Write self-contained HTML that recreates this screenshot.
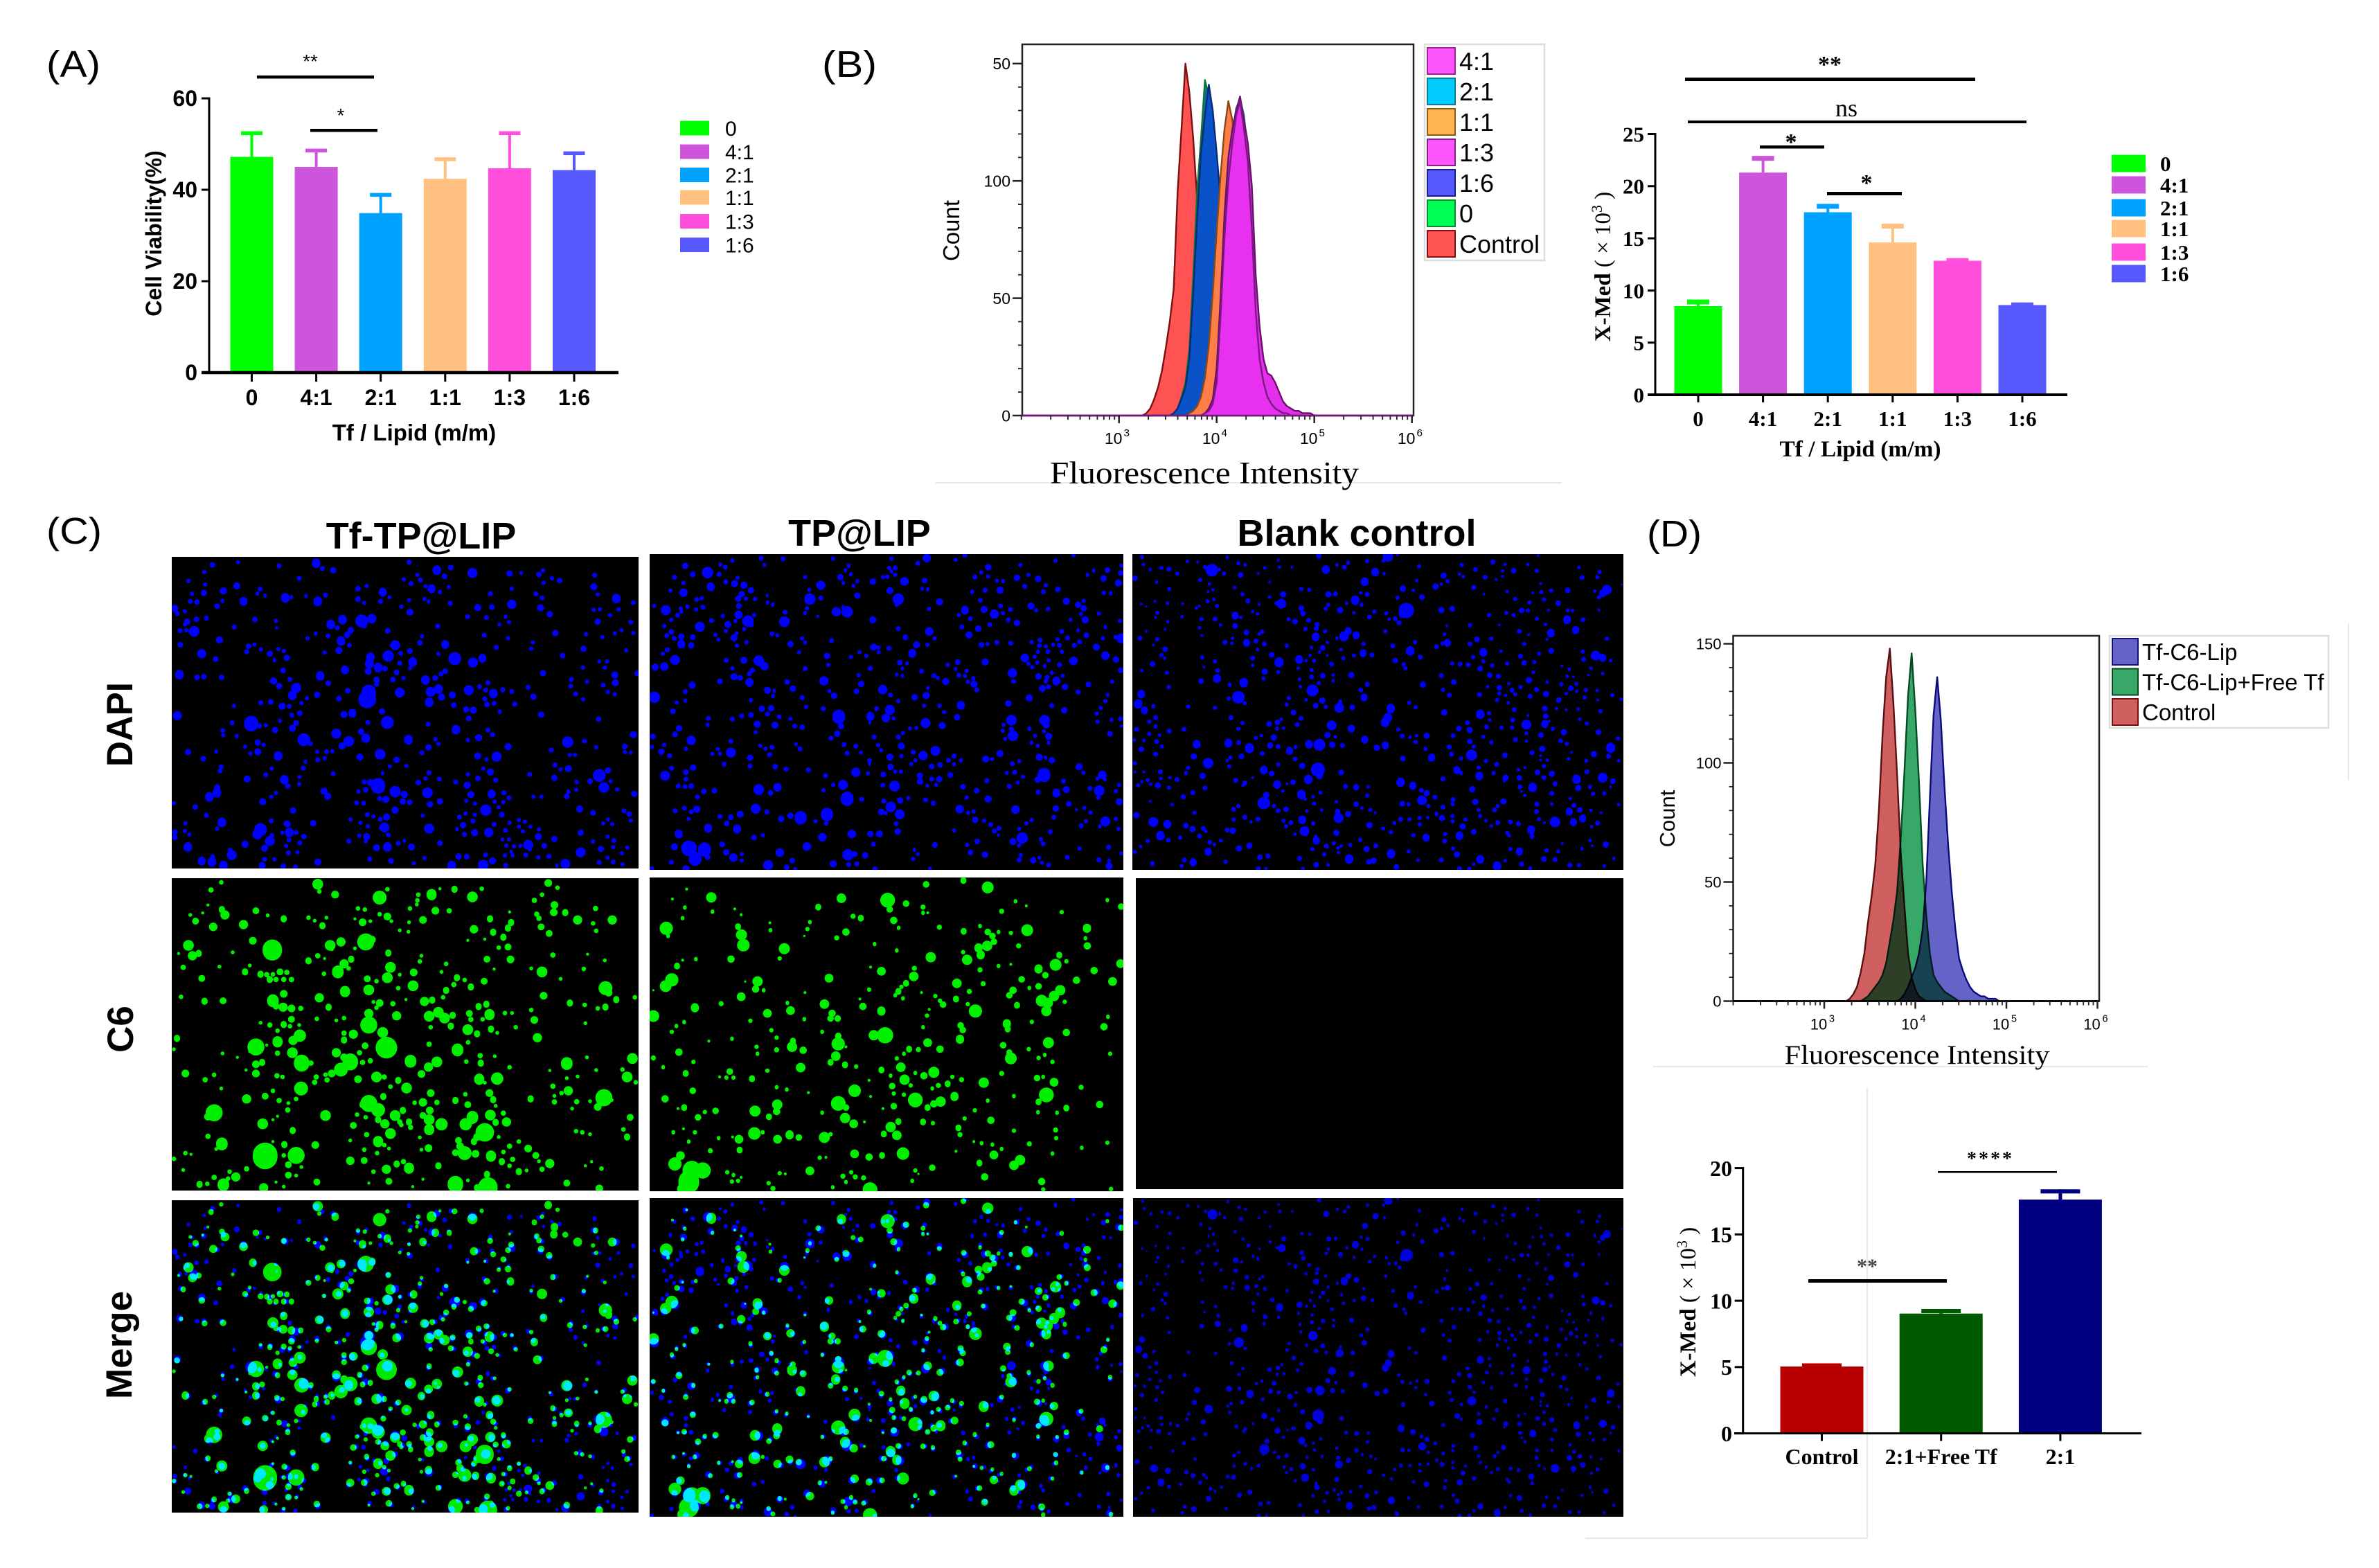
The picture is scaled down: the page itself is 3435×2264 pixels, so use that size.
<!DOCTYPE html>
<html lang="en">
<head>
<meta charset="utf-8">
<title>Tf liposome figure</title>
<style>
html,body{margin:0;padding:0;background:#fff;width:3435px;height:2264px;overflow:hidden}
svg{display:block}
text{font-family:"Liberation Sans",sans-serif;fill:#000}
.serif,.serif text{font-family:"Liberation Serif",serif}
.letter{font-size:54px}
.coltitle{font-size:54px;font-weight:bold;text-anchor:middle}
.rowlabel{font-size:53px;font-weight:bold;text-anchor:middle}
.rule{fill:#e8e8e8}
</style>
</head>
<body>
<svg xmlns="http://www.w3.org/2000/svg" width="3435" height="2264" viewBox="0 0 3435 2264">
<rect width="3435" height="2264" fill="#fff"/>
<rect class="rule" x="1351" y="696" width="904" height="2"/>
<rect class="rule" x="2387" y="1539" width="714" height="2"/>
<rect class="rule" x="3390" y="900" width="2" height="227"/>
<rect class="rule" x="2695" y="1571" width="2" height="651"/>
<rect class="rule" x="2289" y="2220" width="407" height="2"/>

<text class="letter" x="67" y="111" textLength="78" lengthAdjust="spacingAndGlyphs">(A)</text>
<text class="letter" x="1187" y="111" textLength="79" lengthAdjust="spacingAndGlyphs">(B)</text>
<text class="letter" x="67" y="785" textLength="80" lengthAdjust="spacingAndGlyphs">(C)</text>
<text class="letter" x="2378" y="789" textLength="79" lengthAdjust="spacingAndGlyphs">(D)</text>

<g id="panel-a">
<text font-size="32" font-weight="bold" text-anchor="middle" transform="translate(233,337) rotate(-90)">Cell Viability(%)</text>
<text x="598" y="636" font-size="33" font-weight="bold" text-anchor="middle">Tf / Lipid (m/m)</text>
<rect x="371" y="109" width="169" height="4.5" fill="#000"/>
<text x="448" y="98" font-size="28" text-anchor="middle">**</text>
<rect x="448" y="186" width="97" height="4.5" fill="#000"/>
<text x="492" y="176" font-size="28" text-anchor="middle">*</text>
</g>

<g id="panel-b-bars" class="serif">
<text font-size="33" text-anchor="middle" transform="translate(2325,385) rotate(-90)"><tspan font-weight="bold">X-Med</tspan> ( × 10<tspan dy="-12" font-size="22">3</tspan><tspan dy="12"> )</tspan></text>
<text x="2686" y="659" font-size="33" font-weight="bold" text-anchor="middle" textLength="233" lengthAdjust="spacingAndGlyphs">Tf / Lipid (m/m)</text>
<rect x="2433" y="112" width="419" height="5" fill="#000"/>
<text x="2642" y="104" font-size="34" font-weight="bold" text-anchor="middle">**</text>
<rect x="2437" y="174" width="489" height="4" fill="#000"/>
<text x="2666" y="168" font-size="36" text-anchor="middle">ns</text>
<rect x="2541" y="210" width="93" height="4.5" fill="#000"/>
<text x="2586" y="216" font-size="34" font-weight="bold" text-anchor="middle">*</text>
<rect x="2638" y="277" width="108" height="5" fill="#000"/>
<text x="2695" y="275" font-size="34" font-weight="bold" text-anchor="middle">*</text>
</g>

<g id="panel-b-hist">
<text font-size="33" text-anchor="middle" transform="translate(1385,333) rotate(-90)">Count</text>
<text class="serif" x="1739" y="698" font-size="45" text-anchor="middle" textLength="446" lengthAdjust="spacingAndGlyphs" style="font-family:'Liberation Serif',serif">Fluorescence Intensity</text>
</g>

<g id="panel-d-hist">
<text font-size="31" text-anchor="middle" transform="translate(2418,1182) rotate(-90)">Count</text>
<text x="2768" y="1536" font-size="39" text-anchor="middle" textLength="383" lengthAdjust="spacingAndGlyphs" style="font-family:'Liberation Serif',serif">Fluorescence Intensity</text>
</g>

<g id="panel-d-bars" class="serif">
<text font-size="33" text-anchor="middle" transform="translate(2448,1880) rotate(-90)"><tspan font-weight="bold">X-Med</tspan> ( × 10<tspan dy="-12" font-size="22">3</tspan><tspan dy="12"> )</tspan></text>
<rect x="2611" y="1847" width="200" height="5" fill="#000"/>
<text x="2696" y="1838" font-size="30" font-weight="bold" text-anchor="middle" fill="#444" style="fill:#444">**</text>
<rect x="2798" y="1691" width="172" height="2.5" fill="#000"/>
<text x="2874" y="1682" font-size="28" font-weight="bold" text-anchor="middle" letter-spacing="3">****</text>
</g>

<g id="panel-c">
<text class="coltitle" x="608" y="792">Tf-TP@LIP</text>
<text class="coltitle" x="1241" y="788">TP@LIP</text>
<text class="coltitle" x="1959" y="788">Blank control</text>
<text class="rowlabel" textLength="122" lengthAdjust="spacingAndGlyphs" transform="translate(191,1107) rotate(-90)" style="text-anchor:start">DAPI</text>
<text class="rowlabel" transform="translate(192,1486) rotate(-90)">C6</text>
<text class="rowlabel" transform="translate(190,1942) rotate(-90)">Merge</text>
</g>
</svg>

<script>
// ---------- Bar chart data ----------
const ratioGroups = ['0','4:1','2:1','1:1','1:3','1:6'];
const viabilityMeans = [47.2,45,34.9,42.4,44.7,44.3];
const viabilityTops = [52.8,49,39.3,47.1,52.8,48.4];
const viabilityTicks = [0,20,40,60];
const xMedMeans = [8.5,21.3,17.5,14.6,12.85,8.6];
const xMedTops = [9.13,22.9,18.3,16.4,13.1,8.85];
const xMedTicks = [0,5,10,15,20,25];
const competitionGroups = ['Control','2:1+Free Tf','2:1'];
const competitionMeans = [5.04,9.03,17.63];
const competitionTops = [5.28,9.38,18.4];
const competitionTicks = [0,5,10,15,20];

// ---------- Histogram data (log10 intensity bins and counts) ----------
const histBins = [3.24,3.28,3.32,3.36,3.40,3.44,3.48,3.52,3.56,3.60,3.64,3.68,3.72,3.76,3.80,3.84,3.88,3.92,3.96,4.00,4.04,4.08,4.12,4.16,4.20,4.24,4.28,4.32,4.36,4.40,4.44,4.48,4.52,4.56,4.60,4.64,4.68,4.72,4.76,4.80,4.84,4.88,4.92,4.96,5.00];
const countsBControl = [0,1,3,7,12,19,29,40,54,95,122,150,138,118,92,58,36,22,12,6,3,1,0,0,0,0,0,0,0,0,0,0,0,0,0,0,0,0,0,0,0,0,0,0,0];
const countsBZero = [0,0,0,0,0,0,0,0,1,3,8,14,28,60,96,118,143,136,122,104,80,50,30,16,8,4,2,1,0,0,0,0,0,0,0,0,0,0,0,0,0,0,0,0,0];
const countsB16 = [0,0,0,0,0,0,0,0,1,3,7,12,24,52,84,112,128,141,130,112,92,60,38,22,12,7,4,2,1,0,0,0,0,0,0,0,0,0,0,0,0,0,0,0,0];
const countsB11 = [0,0,0,0,0,0,0,0,0,0,0,0,1,2,4,8,16,30,52,78,102,122,134,126,110,88,60,38,22,14,8,5,3,2,1,0,0,0,0,0,0,0,0,0,0];
const countsB21 = [0,0,0,0,0,0,0,0,0,0,0,0,0,0,0,0,1,2,5,16,46,82,106,120,131,135,128,112,92,58,34,22,14,9,6,4,3,2,1,1,0,0,0,0,0];
const countsB41 = [0,0,0,0,0,0,0,0,0,0,0,0,0,0,0,0,1,3,7,20,50,86,110,122,130,136,126,116,98,60,38,24,18,17,14,10,6,4,3,2,2,1,1,1,0];
const countsB13 = [0,0,0,0,0,0,0,0,0,0,0,0,0,0,0,0,1,2,5,14,42,76,100,116,128,134,122,108,80,44,24,14,8,5,3,2,1,1,0,0,0,0,0,0,0];
const countsDControl = [0,1,3,6,12,20,33,44,57,80,112,136,148,125,95,62,40,20,10,5,2,1,0,0,0,0,0,0,0,0,0,0,0,0,0,0,0,0,0,0,0,0,0,0,0];
const countsDBlocked = [0,0,0,0,0,1,2,4,6,8,11,16,25,34,46,68,96,128,146,122,92,58,36,20,11,8,6,4,3,2,1,0,0,0,0,0,0,0,0,0,0,0,0,0,0];
const countsDTarget = [0,0,0,0,0,0,0,0,0,0,0,0,0,0,0,1,3,6,10,14,20,30,50,85,120,136,118,90,66,46,30,18,13,9,6,4,3,2,2,1,1,1,0,0,0];
const histYTicksB = [0,50,100,150];
const histYLabelsB = ['0','50','100','50'];
const histYTicksD = [0,50,100,150];
const histYLabelsD = ['0','50','100','150'];
const histDecades = [3,4,5,6];

// ---------- Legend text ----------
const histLegendB = ['4:1','2:1','1:1','1:3','1:6','0','Control'];
const histLegendD = ['Tf-C6-Lip','Tf-C6-Lip+Free Tf','Control'];

// ---------- Micrograph nuclei/cell blobs: x, y, radius triples ----------
const col1Dapi = [485,40,12,505,62,7,540,70,9,150,47,8,232,35,6,123,78,6,365,52,7,785,35,7,875,70,12,900,97,8,920,58,8,990,82,14,1110,85,9,1148,82,5,1218,70,6,1205,88,8,1247,105,6,1272,115,8,1220,125,6,1385,92,7,1382,142,10,1395,175,6,72,117,6,126,132,6,122,168,9,185,160,10,228,138,10,304,152,7,295,172,5,320,180,5,385,190,12,405,187,5,452,182,5,490,205,12,515,178,7,430,105,7,83,172,6,78,205,7,100,208,8,165,226,8,182,203,6,250,205,11,620,150,8,648,138,6,700,165,11,722,187,6,693,205,7,620,195,8,640,212,6,768,110,6,792,128,7,812,90,6,822,112,7,838,140,6,858,150,11,885,165,6,913,142,5,835,195,6,848,205,5,785,200,6,760,228,6,788,252,10,918,213,7,1048,172,7,1117,150,6,1117,218,13,1007,232,10,1053,230,8,1210,233,10,1195,172,7,1215,190,7,1240,260,9,1455,193,12,1510,210,7,1382,242,6,1402,240,6,1462,240,6,1435,265,6,1395,293,9,1502,295,7,974,272,7,1035,275,7,1097,272,5,1108,295,6,1077,305,5,28,235,10,36,258,7,60,248,6,130,278,7,98,283,8,68,293,9,60,305,5,45,332,7,65,330,6,90,335,15,287,283,8,355,290,6,357,320,4,220,316,7,532,305,12,570,285,12,553,320,7,632,290,18,665,280,12,640,310,8,716,333,8,878,313,7,597,330,9,585,350,9,565,377,12,523,355,7,483,345,6,457,365,6,172,372,10,1028,352,7,1105,365,6,1258,343,9,1357,347,6,1410,360,6,1450,343,6,1472,330,6,1510,342,6,46,393,8,266,400,8,285,392,6,306,413,6,260,424,7,335,432,9,362,412,6,380,420,6,350,460,5,390,450,9,115,432,13,160,455,8,740,395,14,820,385,8,827,357,6,902,392,11,592,395,7,558,418,10,512,427,6,788,420,8,758,430,7,718,442,16,660,448,12,657,475,13,1067,405,7,1185,383,6,1180,410,6,1349,411,9,1487,418,6,880,433,6,933,453,18,992,470,14,1022,452,11,1282,440,8,797,468,12,755,473,7,578,502,11,685,492,12,707,497,8,653,508,10,745,513,8,788,495,6,1425,465,6,1400,465,5,1418,492,6,1347,492,6,378,505,8,498,528,12,43,523,12,100,535,8,122,532,8,179,535,8,1218,517,9,1450,524,10,1522,518,8,902,508,8,888,520,7,870,537,8,838,546,12,767,538,6,733,544,8,680,545,9,680,565,7,347,550,10,365,572,9,400,543,7,420,580,14,524,560,8,587,593,8,1310,543,7,1360,554,6,1452,558,10,1413,568,7,1308,572,7,1170,578,7,1040,558,7,1013,575,7,978,590,14,1033,590,7,1088,588,7,1117,596,7,755,600,14,655,600,20,855,597,14,880,585,12,890,620,10,925,611,10,1058,605,12,1187,618,9,1428,598,6,1450,608,6,1323,606,7,1348,630,6,408,612,12,455,625,6,488,610,9,558,627,8,650,630,25,437,645,6,1030,628,7,1037,652,8,1060,647,7,1127,650,7,850,643,12,930,655,8,338,641,8,306,645,7,219,658,6,375,660,10,398,660,7,970,673,9,993,677,10,1078,683,6,698,682,9,36,700,13,575,695,10,602,690,11,432,690,8,406,698,7,1212,696,9,978,713,8,1398,715,8,715,730,18,652,730,7,847,737,7,368,723,6,213,732,7,275,735,20,302,745,7,322,742,6,420,732,8,408,755,10,352,763,9,937,761,12,550,778,14,630,770,9,1040,763,7,1055,783,7,183,765,7,184,786,6,228,789,6,1510,783,10,445,805,18,466,822,7,590,812,15,645,798,12,783,805,12,1010,796,10,870,803,6,880,823,6,975,806,6,1298,815,16,1352,811,7,296,817,9,255,835,6,315,827,6,568,832,10,848,838,9,827,861,7,1105,835,10,1390,838,6,1482,834,8,71,858,9,162,856,6,296,857,10,272,864,6,1245,850,7,1483,858,6,1502,860,5,362,875,12,120,887,8,488,857,6,518,857,7,537,855,6,512,885,6,490,892,7,626,880,10,692,868,15,1007,875,10,1035,890,6,1068,878,14,1305,871,6,1322,871,6,745,892,9,450,900,5,777,918,6,723,920,6,443,928,7,178,922,7,174,940,7,1257,915,7,1275,933,6,1300,930,10,341,930,6,322,957,7,1025,930,6,1048,945,10,1175,955,7,540,952,7,700,950,5,850,948,7,1400,960,18,1428,938,9,1255,970,9,262,975,10,382,978,12,431,966,6,430,997,6,393,1005,8,815,990,8,838,973,6,883,975,7,975,955,6,1008,972,8,1065,980,7,936,988,7,640,987,7,660,990,10,685,1005,20,973,1002,10,1327,988,6,1370,985,8,1415,1012,15,1437,985,6,165,1012,9,164,1035,12,140,1053,12,510,1028,10,522,1050,10,355,1035,6,340,1052,6,312,1074,10,645,1022,8,622,1030,6,740,1030,16,710,1063,10,690,1060,7,770,1042,10,845,1035,15,985,1043,10,1052,1040,11,1092,1035,7,1108,1057,7,1300,1030,6,1325,1022,6,1295,1050,8,1187,1052,6,1213,1052,6,1458,1020,6,1513,1040,9,765,1072,9,787,1076,8,853,1085,9,885,1072,9,615,1078,7,638,1080,7,970,1070,6,998,1082,6,1062,1073,6,1090,1075,6,25,1080,6,94,1097,8,410,1112,9,740,1110,10,1033,1110,16,1075,1097,6,1337,1105,10,1380,1122,8,1480,1113,7,1497,1127,8,130,1133,7,650,1130,7,670,1137,6,712,1140,10,692,1150,7,829,1134,6,968,1125,6,948,1140,7,998,1130,6,1085,1130,8,596,1150,6,1502,1155,6,1140,1153,6,1160,1160,6,62,1167,6,180,1163,12,340,1157,7,391,1170,10,475,1167,9,628,1165,6,705,1185,14,960,1175,9,992,1157,7,1060,1172,7,1110,1165,6,1178,1182,6,1428,1150,6,1413,1168,5,1442,1170,6,850,1190,14,652,1180,6,165,1190,6,940,1192,5,1097,1198,7,1140,1182,6,1205,1193,6,28,1205,8,60,1200,6,75,1215,6,28,1228,8,305,1195,18,295,1215,14,375,1208,6,398,1207,12,420,1207,7,1043,1207,13,997,1208,10,964,1215,7,1153,1202,6,1340,1208,9,445,1225,8,342,1218,6,624,1221,6,648,1225,10,718,1217,7,1203,1225,10,1108,1237,6,1087,1237,5,1427,1225,6,397,1240,7,335,1244,14,432,1252,7,590,1244,7,645,1245,6,770,1243,5,750,1254,7,885,1253,8,1255,1235,9,1380,1246,6,1447,1242,7,255,1258,10,388,1265,6,1222,1265,8,1170,1260,14,1125,1266,6,1145,1265,6,1100,1264,6,70,1270,12,680,1273,10,715,1270,12,793,1270,10,318,1275,10,1405,1278,9,1445,1270,6,1490,1272,6,1175,1280,6,207,1282,6,1340,1293,14,1473,1297,6,1115,1290,5,395,1295,7,424,1292,6,212,1305,14,1095,1307,6,1120,1307,6,1163,1305,7,1033,1304,7,945,1311,9,972,1312,8,1203,1315,6,1237,1310,7,150,1312,7,1427,1316,6,115,1331,11,148,1335,12,318,1323,7,350,1323,6,490,1335,10,658,1322,7,727,1330,8,800,1340,6,835,1318,6,1055,1330,10,1445,1335,7,1400,1337,7,1290,1343,14,1025,1348,15,923,1350,12,310,1350,10,185,1350,12,378,1353,8,418,1356,7,1098,1350,7,1263,1350,5,1475,1345,6];
const col1Green = [490,20,14,145,45,7,178,12,6,495,52,6,546,65,10,715,42,6,690,78,18,815,65,6,858,65,13,885,40,4,932,42,8,990,75,14,1020,40,6,1190,90,7,1215,65,6,1255,110,10,1235,15,10,1265,35,6,1290,143,8,1253,142,10,135,110,4,78,153,5,118,145,4,180,130,8,190,153,12,290,135,9,95,180,9,152,205,11,250,195,12,328,155,5,380,170,8,460,165,6,480,178,5,505,200,8,518,165,5,620,125,6,642,130,6,635,185,10,610,170,4,660,180,5,690,150,6,715,160,10,728,180,5,788,125,6,812,90,6,830,175,10,870,135,10,915,135,7,785,185,5,755,220,5,783,226,5,810,108,5,1047,170,8,1115,186,8,1110,140,4,1105,210,8,1198,150,7,1205,168,7,1212,205,9,1238,233,9,1330,175,12,1388,125,7,1380,190,6,1390,222,6,1442,175,12,995,215,11,1057,228,8,1090,250,8,1105,292,9,1075,295,6,1030,258,4,975,263,4,72,285,14,85,330,12,105,320,8,40,320,4,55,380,7,280,265,10,343,305,25,215,315,5,530,285,14,565,270,12,535,300,6,645,270,22,665,260,10,610,298,5,718,318,8,490,330,7,460,352,8,512,342,4,598,345,8,575,365,12,555,400,15,590,385,6,510,408,6,1037,345,9,1113,346,10,1250,327,7,1362,323,4,1418,350,5,825,330,5,820,355,6,905,365,6,890,400,5,172,377,5,255,400,8,305,410,8,325,412,7,345,410,6,368,400,9,390,402,7,270,372,5,1060,388,4,1180,385,5,1215,400,14,1350,387,6,335,433,8,355,433,7,380,433,7,405,433,7,115,428,9,800,402,10,725,380,14,715,425,14,755,412,5,650,430,9,680,440,6,655,478,14,1275,430,5,1028,440,9,985,465,8,930,455,7,905,480,8,895,510,6,940,425,8,965,435,6,798,460,14,750,470,6,1420,470,18,1430,490,10,1455,520,8,578,485,13,380,495,10,495,512,12,690,535,10,670,530,5,1220,503,10,1305,535,8,1353,543,6,1395,558,6,1420,552,8,1515,510,6,48,508,6,124,527,8,184,525,9,775,520,4,733,538,7,835,528,12,860,522,8,345,525,15,355,548,8,378,553,12,405,558,10,435,558,7,525,553,8,655,580,12,680,555,6,880,575,14,900,600,14,926,588,8,980,580,9,1010,550,8,1035,540,8,1045,585,13,1095,578,6,1118,578,5,1180,565,6,1190,608,10,745,590,12,850,592,14,305,620,5,335,630,7,380,628,8,405,605,9,487,603,6,430,630,5,550,610,5,575,600,6,985,606,7,1023,605,6,655,630,22,400,635,6,1130,640,6,920,635,8,855,640,6,975,650,14,1050,648,8,1005,668,8,1355,622,5,360,655,6,432,676,16,700,662,14,605,670,12,575,665,7,1070,664,5,35,688,8,360,703,13,410,697,12,575,695,8,976,705,6,1200,685,12,712,728,28,643,720,9,850,713,7,290,725,22,270,745,4,325,717,4,942,738,15,25,735,5,408,750,14,360,752,7,550,750,12,625,750,7,182,753,5,1507,775,14,1015,763,7,1062,765,5,230,770,4,575,770,10,595,790,20,438,795,20,468,795,7,790,787,15,635,792,7,660,785,7,875,790,14,970,788,6,1017,795,8,290,800,10,310,792,8,1295,797,15,1360,770,5,848,812,12,825,842,10,1110,813,6,565,823,18,535,840,10,62,840,10,258,825,4,290,840,10,1240,827,4,1390,825,5,1475,823,6,1490,855,14,358,850,7,376,855,6,155,846,6,515,845,6,485,855,7,520,868,7,126,867,7,1012,865,13,1070,862,16,680,855,14,705,855,7,620,865,10,480,878,7,1295,860,5,1330,853,5,1518,878,6,750,870,8,1030,880,5,436,905,18,178,905,5,1250,895,7,777,903,14,725,897,6,1300,915,12,1278,925,6,345,915,6,702,940,8,1045,925,10,855,925,10,260,950,12,320,938,9,420,950,6,1178,950,8,1255,937,5,1415,945,22,1395,985,10,365,957,7,395,968,5,830,965,11,803,967,6,875,965,7,935,957,8,967,930,6,975,975,9,1057,953,8,1255,963,7,1327,962,7,1370,960,5,1440,955,5,655,970,22,635,975,8,685,998,18,1065,980,5,155,1010,22,135,1027,10,393,998,7,852,1000,10,1312,992,5,515,1022,14,617,1018,6,740,1022,14,765,1000,8,830,1022,9,850,1040,14,645,1030,6,685,1040,8,1048,1020,14,990,1030,15,1090,1012,7,1500,1030,9,1100,1050,12,1065,1052,8,360,1025,4,345,1040,4,312,1058,14,605,1065,9,707,1058,12,755,1050,7,785,1050,8,890,1060,16,968,1060,16,850,1083,13,790,1073,7,760,1063,6,1030,1095,24,1005,1115,10,725,1100,14,990,1050,6,1325,1090,6,1345,1095,6,1370,1103,5,1478,1082,6,409,1087,8,135,1112,7,648,1105,7,820,1117,5,1075,1115,5,1490,1115,8,945,1130,9,995,1135,8,595,1130,5,685,1135,13,705,1150,6,180,1145,15,345,1135,4,382,1148,8,482,1150,10,950,1155,10,1110,1155,7,1140,1135,6,1170,1165,10,1090,1180,6,848,1163,10,825,1170,5,640,1170,6,720,1165,5,162,1167,5,62,1185,6,80,1190,4,965,1185,18,935,1183,9,1000,1188,10,1050,1198,13,1120,1212,7,1085,1222,8,1195,1195,9,682,1185,6,320,1197,32,420,1195,22,380,1195,6,25,1210,6,595,1218,11,640,1217,9,745,1232,8,767,1222,7,395,1235,9,437,1245,5,1240,1230,12,1205,1220,5,880,1240,8,785,1250,13,1110,1240,6,1140,1265,8,1165,1260,5,1215,1255,7,712,1255,12,670,1265,6,260,1253,7,55,1258,5,1355,1240,4,1375,1222,4,1407,1252,6,205,1265,6,225,1288,12,1037,1277,8,395,1280,9,420,1282,5,155,1290,7,200,1295,6,830,1298,4,975,1303,5,720,1307,9,935,1320,20,1050,1308,7,487,1310,9,355,1310,4,108,1320,8,133,1318,6,185,1322,15,1295,1315,9,655,1315,4,1005,1335,8,1040,1335,25,1105,1328,6,797,1330,4,380,1330,5,315,1335,12,1400,1338,10];
const col2Green = [72,242,18,78,275,5,138,72,4,218,108,14,92,115,4,132,152,5,222,170,5,125,198,5,294,158,4,315,183,4,408,218,4,305,235,8,316,270,15,322,315,17,410,250,5,282,375,10,455,330,15,440,372,6,168,375,5,107,405,8,125,380,4,90,465,18,70,492,16,30,510,3,368,472,14,362,505,10,388,510,5,315,538,12,328,472,3,522,520,4,600,458,12,640,112,13,565,150,8,678,190,7,703,198,8,538,215,5,530,245,6,520,275,3,625,283,7,655,258,10,790,120,20,850,135,9,797,160,9,905,150,7,905,175,5,920,175,4,810,208,10,826,240,5,915,52,9,1036,35,8,1115,65,16,958,237,7,748,310,5,930,367,14,820,338,5,1037,255,8,1115,258,9,1130,275,9,1150,258,5,1190,262,6,1243,250,16,1085,327,11,1113,318,14,1135,300,9,1092,357,11,1035,345,6,1048,378,14,1215,318,7,1437,242,11,1438,318,10,1432,285,5,1503,120,5,1548,148,9,1355,172,6,1160,168,7,1205,125,5,1240,145,4,1090,232,5,1347,358,8,1370,385,6,1335,400,16,1280,418,11,1302,445,9,1460,425,10,1403,467,10,1520,472,12,1546,395,12,1225,463,9,1280,493,9,1250,500,5,1197,510,10,1185,532,9,1210,575,8,1350,510,14,1330,535,14,1310,565,14,1290,555,16,1305,600,14,1365,560,6,1090,422,7,1150,405,5,1190,398,4,1100,482,7,1015,480,13,1055,515,7,1012,548,8,945,535,6,960,555,6,970,572,9,1050,570,6,1075,600,18,770,428,12,877,415,7,875,450,13,735,410,4,850,480,8,835,495,6,825,515,8,815,532,5,840,545,5,900,520,4,730,507,6,700,548,4,710,580,10,585,570,13,465,565,5,475,598,12,400,610,12,250,568,7,165,586,11,30,622,16,345,642,6,130,648,5,105,665,5,90,690,6,610,610,10,605,632,9,628,632,9,520,635,5,770,600,11,918,620,6,925,593,4,905,670,5,1027,662,9,1034,682,9,1177,655,11,1180,678,8,1258,647,6,1505,625,5,1492,668,10,1370,693,10,413,683,6,578,690,5,745,705,14,782,705,22,285,720,5,210,730,4,430,715,6,630,708,9,630,742,18,655,755,4,483,730,8,480,755,14,516,770,10,430,768,7,365,755,6,368,785,5,113,778,10,30,803,7,622,795,13,605,822,8,652,833,8,1025,722,11,920,737,12,1312,737,15,860,765,8,890,767,7,960,765,10,843,785,5,820,805,6,1165,748,9,1185,780,8,1190,805,16,1248,765,6,1300,790,5,1280,803,6,1325,820,6,1512,785,6,160,820,6,135,870,8,62,843,5,508,845,13,400,858,6,278,862,9,267,888,6,290,888,6,245,885,4,350,893,8,688,840,6,770,855,8,833,843,13,940,865,15,908,880,10,845,897,14,800,880,5,880,868,5,805,925,9,865,922,6,1000,885,6,1030,897,7,985,915,8,955,922,7,935,935,5,1102,910,14,1160,870,7,1275,890,9,1330,908,12,1295,885,5,1418,930,7,683,945,17,730,900,4,158,945,9,68,980,10,430,930,5,463,940,5,533,953,4,735,970,4,880,985,20,810,957,6,843,962,6,1007,970,11,1305,963,20,1280,993,8,1115,988,5,1200,968,5,630,1000,20,655,1018,9,962,992,14,940,1002,10,920,1018,8,810,1012,9,775,1022,4,1073,1030,6,1278,1038,5,1478,1005,10,1370,1020,8,1340,1040,5,432,1005,14,430,1035,10,405,1058,8,360,1033,15,232,1032,9,197,1037,6,175,1060,9,130,1018,8,110,1022,4,578,1040,5,652,1063,14,680,1088,12,715,1080,4,1125,1073,10,1040,1065,6,905,1080,8,937,1085,6,825,1078,8,800,1102,14,820,1138,13,778,1132,8,1020,1106,8,1025,1135,7,1200,1118,6,1335,1115,7,1337,1150,6,95,1125,5,128,1110,4,165,1125,6,145,1165,5,358,1130,17,385,1125,5,472,1136,11,502,1147,9,433,1155,12,585,1147,15,605,1133,6,308,1155,12,242,1150,5,287,1145,4,1250,1175,7,1070,1165,4,1130,1178,5,1095,1172,5,1420,1192,5,1503,1170,6,215,1205,7,310,1202,8,683,1218,12,730,1232,10,772,1225,8,840,1217,17,1135,1223,12,1160,1197,5,1325,1217,5,1012,1207,4,118,1226,12,100,1262,18,570,1235,6,590,1233,4,1220,1245,14,1200,1268,13,1088,1258,8,935,1278,9,538,1292,12,155,1292,25,190,1290,22,145,1340,28,125,1370,15,270,1298,6,290,1310,5,315,1320,4,305,1335,6,285,1338,6,440,1302,6,458,1305,4,645,1315,7,672,1298,6,685,1318,7,712,1322,7,655,1340,5,880,1290,6,890,1305,3,870,1335,5,1105,1318,10,1290,1338,10,1295,1372,6,404,1345,6,418,1368,7,612,1363,5,733,1373,20,1515,1370,6];
const col2Dapi = [1035,258,11,1015,280,6,1052,295,7,1025,330,7,1048,365,10,1078,338,9,1115,320,7,1097,255,10,1130,275,13,1150,240,7,1157,270,6,1182,255,7,1175,300,7,1203,313,9,1085,215,7,1058,178,6,1100,172,7,1148,172,10,1067,115,7,1088,95,6,1110,72,9,1110,112,6,1138,130,5,1158,132,6,1203,118,9,1240,105,6,1271,122,9,1228,155,7,1296,150,6,1288,178,7,1335,168,8,1214,62,6,1327,44,6,1385,20,6,1248,240,10,1265,258,6,1303,253,6,1362,220,10,1400,235,9,1418,218,6,1418,250,9,1410,275,6,1423,300,10,1376,300,5,1467,272,6,1535,305,6,1482,120,9,1495,85,8,1538,97,8,1450,87,5,1430,105,5,1530,140,10,1483,183,6,1505,185,5,1540,65,5,1088,408,8,1108,405,6,1138,398,7,1183,401,7,1250,397,6,1277,388,7,1333,385,6,1347,350,7,1400,345,5,1366,378,7,1427,367,8,1405,395,7,1388,410,7,1320,407,6,1275,412,7,1296,415,6,1340,410,7,1270,438,6,1303,438,7,1348,438,6,1260,460,6,1228,465,12,1240,490,6,1252,505,6,1268,485,6,1305,475,6,1340,495,7,1292,500,5,1100,482,10,1188,530,13,1192,567,7,1272,545,9,1315,530,6,1300,550,7,1330,565,11,1350,542,6,1296,567,6,1358,590,9,1285,597,10,1305,590,7,1400,613,7,1433,580,8,1510,568,6,1459,418,10,1480,380,6,1488,455,12,1520,375,6,1540,380,14,1488,332,5,1522,472,9,1538,518,8,1385,478,12,133,66,9,98,116,7,157,103,8,127,140,6,85,173,6,127,182,12,205,95,16,215,157,11,242,103,7,262,72,7,246,60,5,285,42,6,263,136,7,292,143,10,302,118,6,322,150,10,345,172,9,315,188,9,304,208,9,328,208,6,358,210,6,378,33,7,388,62,5,448,36,7,397,195,4,398,225,5,415,233,6,170,212,7,186,206,6,190,245,7,168,255,6,140,243,6,118,250,6,120,265,6,108,280,7,88,300,6,70,258,14,33,240,5,306,240,8,305,278,11,254,283,6,218,303,7,335,305,16,355,280,6,295,305,5,270,320,10,345,320,8,65,327,6,180,330,14,264,348,6,323,340,6,298,358,6,290,378,10,230,365,6,240,385,5,330,397,6,300,412,6,88,352,8,73,368,7,97,380,7,120,373,9,120,405,11,157,375,8,152,410,9,75,430,7,60,447,6,413,360,7,430,367,6,520,115,6,570,150,13,533,170,6,535,210,16,570,205,7,525,250,6,520,270,5,455,267,7,453,308,15,560,285,4,610,35,6,660,65,6,650,85,5,667,103,6,633,115,9,643,140,5,675,153,5,688,133,6,688,195,9,620,265,13,655,265,16,642,245,5,738,134,9,771,115,6,785,113,6,790,75,6,810,75,7,798,90,5,810,105,6,798,35,6,840,133,12,793,173,10,905,130,8,897,165,5,915,168,5,820,210,16,815,235,6,738,300,10,953,222,10,919,252,6,883,55,7,912,32,12,1005,40,6,1035,20,7,820,338,7,843,376,8,920,350,12,937,380,6,879,408,10,865,445,11,914,408,6,740,418,10,757,420,5,757,440,6,790,423,7,695,440,6,717,456,6,667,461,6,605,390,7,500,440,6,510,380,6,520,398,5,472,405,9,590,456,9,594,495,6,520,511,7,265,475,7,322,475,10,370,477,15,388,500,12,285,510,6,350,518,7,340,533,7,290,546,10,310,551,8,245,566,8,340,571,11,100,473,14,65,502,12,36,505,10,155,583,10,133,611,7,462,569,8,480,598,9,580,564,13,692,540,6,700,578,9,685,610,8,598,608,6,613,629,9,398,605,10,420,607,5,416,630,6,510,637,7,770,602,13,795,625,7,730,510,7,825,485,8,848,488,5,833,511,5,815,537,5,833,542,5,895,522,7,935,542,7,948,552,5,973,567,10,980,495,6,1012,483,8,1005,513,5,1040,522,6,1015,540,7,1035,543,6,1062,553,6,1045,568,6,1064,578,10,1073,603,7,915,595,5,910,628,10,873,635,9,820,652,6,33,635,16,133,650,6,105,658,6,93,696,8,345,648,6,380,685,9,410,683,9,398,708,7,345,712,8,315,717,7,285,730,7,207,727,7,205,755,6,436,720,7,472,728,6,365,752,10,422,756,10,360,787,6,486,760,7,510,765,8,523,677,6,578,685,7,628,720,18,635,760,9,730,718,11,728,745,4,750,685,7,793,690,14,780,725,12,805,727,6,903,672,6,953,672,6,968,700,6,1022,670,11,1010,722,9,908,747,14,962,758,10,858,770,6,878,768,5,1175,662,9,1242,638,10,1315,672,7,1355,692,9,1495,625,5,1488,652,6,1473,682,6,1460,707,6,1463,741,6,1508,733,5,1537,728,7,1185,735,15,1160,755,5,1157,780,6,1185,773,7,1190,802,15,1165,815,5,1243,772,6,1292,735,15,1297,755,10,1290,783,6,1262,802,5,1305,805,10,1305,832,5,1250,832,6,1270,845,6,1503,793,8,1540,760,4,113,770,9,100,796,8,28,805,8,25,850,6,152,822,13,135,858,6,65,842,6,56,871,9,83,889,7,280,826,7,238,860,6,220,880,6,245,880,5,280,875,14,375,845,6,392,858,6,413,852,7,405,884,7,490,838,5,503,858,7,342,897,9,342,933,7,258,925,7,623,793,9,603,813,7,742,808,7,835,790,6,820,808,7,645,840,7,683,847,7,655,878,7,700,875,5,755,842,6,765,865,6,830,847,10,868,873,7,940,868,14,900,888,13,793,895,10,830,890,6,875,908,6,862,925,6,1000,890,7,982,908,7,1022,908,6,1000,925,5,1148,879,10,1102,903,10,1122,903,6,1275,895,10,1315,908,9,1295,897,5,1210,913,5,1188,923,7,727,910,7,727,925,4,795,937,9,955,928,8,928,935,8,89,943,7,158,940,9,135,960,8,68,975,14,135,990,7,423,936,8,458,947,7,530,950,7,585,975,7,683,960,13,722,965,6,772,970,8,810,957,6,828,958,6,890,975,9,890,1000,9,928,990,7,952,990,9,988,972,8,1403,937,10,1417,962,6,1170,963,6,1195,961,7,1222,980,6,1205,1005,5,1290,972,18,1270,992,9,1106,997,7,1478,972,12,1462,988,5,1487,990,5,1353,998,7,110,1020,7,132,1022,7,152,1020,8,370,1035,15,430,1025,12,408,1050,8,193,1043,8,227,1040,8,172,1067,7,579,1038,6,610,1015,6,642,1015,14,770,1016,7,808,1020,15,914,1018,5,942,1015,6,1029,1023,8,1073,1040,8,1178,1021,7,1272,1046,7,1330,1050,11,1362,1035,10,1438,1030,7,1468,1040,15,1522,1042,6,1532,1015,6,655,1075,18,702,1077,7,852,1072,6,773,1085,7,826,1082,9,908,1080,7,933,1094,7,1040,1070,6,1110,1076,10,1465,1070,6,1533,1088,10,100,1127,7,130,1116,7,152,1132,7,170,1120,10,144,1162,6,360,1118,14,396,1132,7,796,1110,15,765,1132,9,780,1137,5,825,1142,14,813,1183,7,818,1217,9,590,1143,17,587,1182,6,472,1148,9,442,1162,9,505,1157,17,553,1172,6,1018,1120,12,1045,1136,6,1063,1130,6,1198,1122,12,1328,1117,9,1370,1097,8,1395,1122,4,1420,1115,6,1440,1135,6,245,1152,7,280,1155,8,310,1142,10,267,1182,8,207,1202,11,300,1206,11,1322,1155,7,1068,1166,9,1097,1170,6,1118,1187,7,1145,1203,7,1130,1215,7,1250,1168,6,1233,1182,6,1210,1205,6,1425,1172,6,1410,1192,7,1470,1195,5,1488,1173,14,1522,1162,6,1530,1205,6,112,1228,11,355,1243,8,383,1233,6,575,1242,12,670,1228,12,730,1227,9,759,1227,10,1000,1212,6,1310,1218,7,1143,1232,4,1220,1245,16,1190,1260,10,1210,1277,6,1075,1260,8,1280,1250,6,1287,1270,7,252,1273,8,98,1283,10,145,1290,22,195,1295,18,165,1335,18,205,1328,8,265,1307,9,288,1330,12,315,1315,6,315,1342,6,525,1282,12,438,1308,12,740,1272,7,938,1275,8,1042,1275,6,872,1296,5,883,1315,5,868,1335,6,1053,1307,8,1100,1317,9,1405,1290,6,1498,1285,7,658,1318,16,680,1315,8,713,1320,9,1215,1320,6,1210,1340,7,1255,1342,9,1275,1330,5,1283,1352,6,1365,1328,7,1305,1362,7,1467,1340,7,1500,1343,5,1500,1367,10,1540,1312,5,88,1350,7,478,1343,8,400,1362,14,460,1372,8,610,1357,10,660,1360,7,686,1357,7,135,1378,10,25,1378,7,488,1380,5,745,1380,8,923,1378,5];
const col3Dapi = [42,28,6,47,60,5,103,75,6,127,80,7,153,100,6,185,47,5,217,50,4,68,82,5,20,120,8,88,137,5,128,167,6,262,85,18,240,72,6,285,82,5,300,100,6,352,105,8,310,30,5,345,55,6,366,62,5,408,100,4,428,75,5,470,42,4,474,72,5,513,72,4,598,23,8,620,83,11,655,62,5,678,72,7,690,53,6,750,45,6,775,93,11,803,100,5,815,25,15,800,45,5,845,18,4,225,127,6,254,145,5,265,170,5,250,178,4,333,160,5,358,190,6,375,218,7,410,233,4,443,137,4,443,202,5,486,190,9,480,230,14,465,228,6,543,167,6,568,170,6,628,190,9,650,188,7,742,135,11,730,183,5,750,190,7,712,215,12,685,228,5,732,235,6,627,235,6,620,252,6,665,258,9,543,250,8,548,273,8,708,270,5,772,265,6,757,288,7,810,272,6,845,205,6,873,260,22,860,275,10,838,295,7,818,297,5,850,313,7,862,165,9,895,173,5,922,202,8,913,68,6,1047,62,6,1090,82,7,1145,50,7,1183,60,5,1175,88,5,1210,87,8,1255,60,5,1283,88,6,1287,22,4,990,108,9,1040,102,5,1052,113,5,1120,116,7,1175,112,4,1155,125,4,1003,133,6,983,145,5,965,156,9,905,130,5,1085,160,7,1117,188,4,1190,178,5,1270,183,4,1295,143,4,1297,180,6,1328,173,6,1380,172,8,1415,73,5,1425,117,7,1473,115,6,1480,92,6,1503,170,14,1490,185,10,1465,175,5,1478,203,6,1550,147,3,1215,210,6,1260,225,6,1305,212,6,1350,228,8,40,232,4,55,242,3,83,220,4,122,228,5,170,230,4,213,250,5,222,240,4,248,220,6,268,212,5,278,240,6,90,270,6,85,290,4,168,287,5,230,297,6,272,297,7,289,323,5,335,282,10,353,290,5,390,265,5,405,275,5,123,308,5,223,335,5,335,327,8,115,342,4,55,350,4,983,258,9,1017,252,8,1133,280,6,1187,270,6,1210,280,6,1235,260,8,1255,260,6,1320,258,4,1380,260,6,1395,260,5,1378,300,11,1428,300,7,1478,257,4,1283,295,6,1310,320,5,503,298,6,523,308,8,566,302,7,593,320,7,590,338,7,556,340,6,1000,326,4,1073,324,6,1165,323,4,1405,345,10,1228,350,7,1327,358,11,1258,365,4,807,350,6,618,350,6,690,350,10,588,374,11,677,372,13,715,367,10,655,380,5,993,362,5,370,355,8,420,352,6,410,362,5,230,368,4,327,380,5,36,380,7,90,385,6,78,410,4,1095,385,8,1140,382,6,1503,382,6,303,398,7,325,402,5,371,400,10,400,393,7,427,405,7,497,413,6,625,398,5,610,422,8,405,428,5,575,420,5,570,455,5,668,430,5,738,405,6,1002,400,10,987,403,6,968,417,7,900,397,6,830,413,7,1073,405,7,1243,405,6,1315,385,4,115,428,8,103,453,6,113,467,5,885,435,12,917,462,7,1115,442,11,1170,437,5,1328,435,8,1290,447,6,1427,438,6,1468,455,14,1490,465,10,231,463,6,390,467,7,450,452,8,737,445,10,708,455,6,765,453,7,675,467,6,1083,462,6,1232,458,7,625,455,4,600,440,5,536,473,11,558,478,5,583,478,6,272,481,6,75,492,8,237,505,4,390,498,5,473,485,13,638,492,7,838,477,8,865,493,6,870,510,6,1017,490,6,1042,492,7,1067,495,7,1115,480,6,1190,490,6,1243,487,8,1275,484,6,1143,498,6,1105,512,8,1430,472,7,1515,477,5,1362,500,4,42,520,5,120,530,6,280,520,7,428,525,9,470,527,6,533,510,5,575,518,6,610,543,8,643,540,5,700,540,9,1135,540,8,1162,545,7,1272,528,5,1385,515,5,1453,510,5,1490,533,5,278,555,11,228,566,8,424,555,6,362,573,12,318,582,6,575,548,7,537,558,5,598,575,6,643,565,5,750,580,7,983,542,7,1022,570,8,925,582,9,1258,562,9,1378,545,5,1398,548,4,1445,540,4,1195,577,5,1315,570,5,1360,580,6,1407,578,6,126,592,6,540,590,5,578,607,17,730,605,7,1128,590,5,1165,595,8,1232,592,6,1205,605,7,1282,603,7,1390,597,8,1473,607,5,1437,605,6,988,604,6,1165,620,6,1215,622,6,1312,622,9,1408,610,5,1375,620,5,40,623,11,345,636,18,315,642,6,740,637,10,1008,627,7,1103,625,7,1185,628,5,1262,632,7,1433,637,6,1520,627,6,1548,645,5,503,640,6,558,648,5,609,650,9,665,655,6,1158,648,6,1352,648,8,1475,648,4,30,665,12,365,662,6,497,668,6,588,672,8,620,678,6,662,682,14,703,680,8,882,660,6,902,680,6,824,685,12,187,677,6,272,682,6,78,675,6,50,693,10,1193,660,5,1212,690,7,1308,685,8,1345,685,5,1375,690,4,1413,688,5,1483,697,6,992,702,9,1105,710,12,1133,705,6,518,702,8,1255,715,4,1311,718,8,85,725,7,322,725,7,542,728,7,815,725,12,806,745,12,1207,735,7,1135,735,5,1418,732,5,65,742,6,358,748,6,442,752,8,468,745,8,480,732,5,530,755,7,638,758,14,1065,747,7,1250,755,14,1308,752,10,1322,740,4,1440,750,6,1368,788,9,85,763,6,25,775,7,174,775,7,128,783,7,345,773,6,466,772,6,487,770,5,700,772,10,848,776,6,1038,772,8,1072,778,9,1125,765,7,1172,768,6,1205,768,6,1333,773,6,1477,788,8,65,795,6,98,800,5,400,812,6,417,802,5,456,811,9,625,800,9,650,808,5,860,805,7,885,810,5,905,802,5,937,803,9,1020,802,7,1115,808,6,1250,793,6,1296,800,8,18,822,5,48,824,5,88,828,7,214,840,11,314,835,11,346,833,7,742,820,10,1072,828,8,1216,820,7,1250,826,5,902,830,6,1140,832,6,1358,825,7,1538,815,6,105,850,6,445,845,9,470,850,7,525,852,6,567,840,11,600,842,17,640,842,9,672,845,7,780,855,9,807,845,10,1008,852,7,1085,850,6,1377,838,6,1515,855,13,40,862,8,380,857,13,506,868,10,933,860,6,1300,860,9,1268,877,7,1392,875,4,85,883,7,420,880,7,1015,883,7,1078,887,16,1183,888,8,1462,883,9,1508,892,7,205,893,9,355,892,8,1295,890,4,320,898,6,952,898,10,862,902,8,1045,902,6,523,904,7,1315,908,5,1295,908,4,1383,903,5,1438,912,6,1540,912,5,250,922,15,310,910,5,20,922,6,1123,913,6,1157,927,7,316,936,6,470,928,6,546,934,9,1305,935,6,1245,942,4,1225,950,5,187,943,6,425,952,11,1100,942,6,595,950,20,600,975,10,668,962,8,1032,952,10,1045,965,6,1147,965,6,1285,962,8,1330,968,9,1440,960,7,20,960,4,48,960,4,100,960,7,181,965,6,450,967,8,1102,978,11,1185,985,9,1228,986,8,1305,985,7,1490,985,14,1408,992,12,233,977,9,130,985,5,102,988,5,152,993,7,60,995,6,42,1002,5,337,997,7,390,985,4,565,993,12,988,990,7,855,1005,12,893,1020,10,1522,1000,8,365,1008,7,467,1015,11,517,1005,8,498,1012,4,1340,1012,7,30,1018,6,70,1013,5,92,1018,9,127,1028,6,1180,1000,4,682,1023,7,715,1027,9,752,1025,5,1270,1027,12,1230,1025,7,1413,1030,9,1450,1025,6,1515,1025,4,1080,1035,9,240,1030,7,360,1018,5,485,1043,5,603,1050,6,920,1040,7,937,1052,9,1330,1053,7,1235,1045,4,1460,1055,6,1495,1053,6,1245,1062,5,202,1050,7,172,1068,7,543,1058,12,433,1060,9,580,1068,5,750,1063,6,963,1070,7,1020,1080,7,1388,1075,5,68,1087,4,555,1078,5,922,1083,14,1090,1090,9,1178,1088,9,653,1090,5,137,1102,5,425,1095,18,583,1098,6,715,1100,8,860,1098,8,880,1100,6,942,1108,6,1018,1100,6,988,1113,7,1160,1108,6,1283,1100,7,1330,1100,5,1400,1105,7,457,1108,6,1540,1102,5,733,1117,5,345,1108,6,422,1115,5,330,1122,7,470,1128,7,495,1122,8,560,1130,5,607,1125,5,760,1125,6,775,1137,4,657,1132,8,1150,1125,7,1100,1125,6,1282,1132,7,1385,1132,10,1418,1125,8,1453,1127,5,1485,1137,4,207,1137,6,690,1143,9,968,1142,6,25,1148,9,660,1160,14,1105,1152,6,915,1160,6,940,1158,5,985,1160,9,1018,1152,6,855,1165,7,883,1165,6,365,1157,7,407,1165,7,330,1167,6,546,1168,11,487,1172,6,1123,1172,5,1290,1165,6,1340,1177,15,1398,1178,10,1427,1162,10,78,1177,14,122,1187,11,385,1177,5,510,1180,7,580,1183,6,835,1182,6,915,1188,6,1018,1175,6,1058,1167,6,1160,1180,7,1200,1177,7,1225,1185,7,1307,1180,4,1474,1182,7,180,1193,8,495,1195,6,757,1191,9,1050,1197,9,1397,1190,4,1455,1197,5,201,1208,9,235,1205,7,243,1218,5,310,1212,7,328,1215,9,800,1206,6,1265,1212,11,1140,1195,5,553,1217,14,653,1225,9,825,1222,6,1085,1220,8,1190,1225,6,523,1230,5,100,1237,12,162,1245,6,223,1238,7,895,1235,6,935,1245,10,995,1230,6,1040,1237,11,1196,1237,5,1268,1240,7,125,1256,7,590,1258,10,588,1240,5,255,1265,7,290,1258,6,728,1255,6,993,1260,7,1450,1258,5,60,1260,6,270,1275,5,645,1270,6,622,1282,7,668,1282,5,697,1277,6,1363,1270,4,1500,1275,9,38,1283,5,380,1280,9,347,1292,9,578,1295,6,658,1290,5,748,1295,9,777,1280,7,1200,1295,6,1228,1305,10,1313,1300,6,1350,1305,6,1425,1293,5,1020,1292,6,1457,1280,4,20,1307,6,250,1307,10,825,1315,12,880,1305,6,660,1310,5,615,1318,6,1032,1318,9,413,1330,8,438,1325,7,537,1335,7,693,1338,12,770,1345,9,755,1350,8,1105,1340,11,1305,1338,8,1340,1340,7,1525,1335,5,175,1342,7,203,1352,10,305,1350,6,910,1342,5,983,1342,7,75,1358,7,167,1368,6,590,1363,8,627,1363,5,1183,1345,5,1158,1368,12,1085,1360,5,1235,1360,7,1387,1365,7,1415,1365,6,1495,1368,5,842,1372,8,1040,1380,7,1070,1380,6,1262,1378,6,408,1380,7,432,1380,5,548,1380,5];

// ---------- Helpers ----------
const SVGNS = 'http://www.w3.org/2000/svg';
const rootSvg = document.querySelector('svg');
function mk(tag, parent, attrs, content) {
  const n = document.createElementNS(SVGNS, tag);
  for (const k in attrs) n.setAttribute(k, attrs[k]);
  if (content !== undefined) n.textContent = content;
  parent.appendChild(n);
  return n;
}

// ---------- Bar charts ----------
function drawBars(parent, cfg, groups, means, tops, ticks, colors) {
  const xAt = i => cfg.x0 + i * cfg.step;
  const yAt = v => cfg.y0 - v * cfg.unit;
  const g = mk('g', parent, {});
  
  
  groups.forEach((name, i) => {
    const bar = mk('rect', g, {x: xAt(i) - cfg.barW / 2, y: yAt(means[i]), width: cfg.barW, height: yAt(0) - yAt(means[i]), fill: colors[i]});
    
    
    const stem = mk('rect', g, {x: xAt(i) - cfg.stemW / 2, y: yAt(tops[i]), width: cfg.stemW, height: yAt(means[i]) - yAt(tops[i]), fill: colors[i]});
    
    
    const cap = mk('rect', g, {x: xAt(i) - cfg.capW / 2, y: yAt(tops[i]), width: cfg.capW, height: cfg.capH, fill: colors[i]});
    
    
    const tick = mk('rect', g, {x: xAt(i) - 1.5, y: yAt(0), width: 3, height: cfg.tickLen, fill: '#000'});
    
    
    const lab = mk('text', g, {x: xAt(i), y: cfg.labelY, 'font-size': cfg.fontSize, 'font-weight': 'bold', 'text-anchor': 'middle'}, name);
    
    
  });
  const yAxis = mk('rect', g, {x: cfg.axisX - 1.5, y: yAt(ticks[ticks.length - 1]) - 1.5, width: 3, height: yAt(0) - yAt(ticks[ticks.length - 1]) + 3, fill: '#000'});
  
  
  const xAxis = mk('rect', g, {x: cfg.baseX0, y: yAt(0) - cfg.baseH / 2, width: cfg.baseX1 - cfg.baseX0, height: cfg.baseH, fill: '#000'});
  
  
  ticks.forEach(t => {
    const tk = mk('rect', g, {x: cfg.axisX - cfg.yTickLen, y: yAt(t) - 1.5, width: cfg.yTickLen, height: 3, fill: '#000'});
    
    
    const tl = mk('text', g, {x: cfg.yLabelX, y: yAt(t) + cfg.fontSize * 0.35, 'font-size': cfg.fontSize, 'font-weight': 'bold', 'text-anchor': 'end'}, String(t));
    
    
  });
}
function drawSwatchLegend(parent, cfg, names, colors) {
  const g = mk('g', parent, {});
  
  
  names.forEach((name, i) => {
    const sw = mk('rect', g, {x: cfg.x, y: cfg.rows[i] - cfg.h / 2, width: cfg.w, height: cfg.h, fill: colors[i]});
    
    
    const t = mk('text', g, {x: cfg.textX, y: cfg.rows[i] + cfg.fontSize * 0.36, 'font-size': cfg.fontSize, 'font-weight': cfg.weight}, name);
    
    
  });
}

const ratioColors = ['#00ff00','#cd55db','#00a2ff','#ffc080','#ff4fdc','#5858ff'];
const competitionColors = ['#b80000','#005800','#000080'];

const panelA = document.getElementById('panel-a');
drawBars(panelA, {x0:363.5, step:93.1, y0:538, unit:6.6, barW:62, stemW:4, capW:31, capH:5.5, tickLen:13, labelY:585, fontSize:32, axisX:302, baseX0:291, baseX1:893, baseH:4.5, yTickLen:11, yLabelX:285}, ratioGroups, viabilityMeans, viabilityTops, viabilityTicks, ratioColors);
drawSwatchLegend(panelA, {x:982, w:42, h:21, rows:[185,219,252.5,285,319.5,353.5], textX:1047, fontSize:30, weight:'normal'}, ratioGroups, ratioColors);

const panelBBars = document.getElementById('panel-b-bars');
drawBars(panelBBars, {x0:2452, step:93.6, y0:570, unit:15.06, barW:69, stemW:4, capW:32, capH:7, tickLen:11, labelY:615, fontSize:31, axisX:2390, baseX0:2379, baseX1:2985, baseH:4, yTickLen:11, yLabelX:2374}, ratioGroups, xMedMeans, xMedTops, xMedTicks, ratioColors);
drawSwatchLegend(panelBBars, {x:3049, w:49, h:25, rows:[236,267,300,330,364,395], textX:3119, fontSize:31, weight:'bold'}, ratioGroups, ratioColors);

const panelDBars = document.getElementById('panel-d-bars');
drawBars(panelDBars, {x0:2630.5, step:172.2, y0:2069.6, unit:19.15, barW:120, stemW:5, capW:57, capH:6, tickLen:11, labelY:2114, fontSize:32, axisX:2516.7, baseX0:2504, baseX1:3092, baseH:3, yTickLen:12, yLabelX:2501}, competitionGroups, competitionMeans, competitionTops, competitionTicks, competitionColors);

// ---------- Histograms ----------
function drawHistogram(parent, cfg, layers, yTicks, yLabels) {
  const xAt = l => cfg.x3 + (l - 3) * cfg.decade;
  const yAt = c => cfg.y0 - c * cfg.perCount;
  const frame = mk('rect', parent, {x: cfg.left, y: cfg.top, width: cfg.right - cfg.left, height: cfg.y0 - cfg.top, fill: '#fff', stroke: '#222', 'stroke-width': 2.5});
  
  
  const clipId = cfg.id + '-clip';
  const defs = mk('defs', parent, {});
  const clip = mk('clipPath', defs, {id: clipId});
  mk('rect', clip, {x: cfg.left, y: cfg.top, width: cfg.right - cfg.left, height: cfg.y0 - cfg.top + 2});
  const plot = mk('g', parent, {'clip-path': 'url(#' + clipId + ')'});
  
  
  layers.forEach(layer => {
    let d = 'M' + cfg.left + ' ' + cfg.y0;
    histBins.forEach((b, i) => { d += 'L' + xAt(b).toFixed(1) + ' ' + yAt(layer.counts[i]).toFixed(1); });
    d += 'L' + cfg.right + ' ' + cfg.y0 + 'Z';
    const p = mk('path', plot, {d: d, fill: layer.fill, stroke: layer.stroke, 'stroke-width': layer.width || 2.4, 'stroke-linejoin': 'round'});
    if (cfg.multiply) p.style.mixBlendMode = 'multiply';
    
    
  });
  for (let d = 2; d < 6; d++) {
    for (let k = 1; k < 10; k++) {
      const l = d + Math.log10(k);
      const major = k === 1 && d > 2;
      const tk = mk('line', parent, {x1: xAt(l), x2: xAt(l), y1: cfg.y0, y2: cfg.y0 + (major ? 11 : 6), stroke: '#222', 'stroke-width': major ? 2.5 : 1.8});
      
      
    }
  }
  const lastTk = mk('line', parent, {x1: xAt(6), x2: xAt(6), y1: cfg.y0, y2: cfg.y0 + 11, stroke: '#222', 'stroke-width': 2.5});
  
  
  histDecades.forEach(d => {
    const t = mk('text', parent, {x: xAt(d) - 8, y: cfg.y0 + 41, 'font-size': cfg.tickFont, 'text-anchor': 'middle'}, '10');
    
    
    const sup = mk('text', parent, {x: xAt(d) + 11, y: cfg.y0 + 30, 'font-size': cfg.tickFont * 0.66, 'text-anchor': 'middle'}, String(d));
    
    
  });
  for (let c = 0; c <= 150; c += 10) {
    const major = c % 50 === 0;
    const tk = mk('line', parent, {x1: cfg.left - (major ? 14 : 6), x2: cfg.left, y1: yAt(c), y2: yAt(c), stroke: '#222', 'stroke-width': major ? 2.5 : 1.8});
    
    
  }
  yTicks.forEach((v, i) => {
    const t = mk('text', parent, {x: cfg.left - 17, y: yAt(v) + cfg.tickFont * 0.36, 'font-size': cfg.tickFont, 'text-anchor': 'end'}, yLabels[i]);
    
    
  });
}
function drawHistLegend(parent, cfg, names, fills, strokes) {
  const g = mk('g', parent, {});
  
  
  const box = mk('rect', g, {x: cfg.x, y: cfg.y, width: cfg.w, height: cfg.h, fill: '#fff', stroke: '#dcdcdc', 'stroke-width': 2.5});
  
  
  names.forEach((name, i) => {
    const cy = cfg.firstRow + i * cfg.rowStep;
    const sw = mk('rect', g, {x: cfg.swX, y: cy - cfg.swH / 2, width: cfg.swW, height: cfg.swH, fill: fills[i], stroke: strokes[i], 'stroke-width': 2});
    
    
    const t = mk('text', g, {x: cfg.textX, y: cy + cfg.fontSize * 0.36, 'font-size': cfg.fontSize}, name);
    
    
  });
}

const panelBHist = document.getElementById('panel-b-hist');
drawHistogram(panelBHist, {id:'histb', left:1476, right:2041, top:64, y0:600, x3:1615.7, decade:141, perCount:3.388, tickFont:23, multiply:false}, [
  {name:'control', counts:countsBControl, fill:'#ff5252', stroke:'#7a1010'},
  {name:'0', counts:countsBZero, fill:'#0a6fb0', stroke:'#0a7a2e'},
  {name:'1-6', counts:countsB16, fill:'#0a52c8', stroke:'#0b2a7a'},
  {name:'1-1', counts:countsB11, fill:'#ff7d48', stroke:'#8a4a12'},
  {name:'2-1', counts:countsB21, fill:'#e42fec', stroke:'#117f8f'},
  {name:'4-1', counts:countsB41, fill:'#e42fec', stroke:'#6b0f6e'},
  {name:'1-3', counts:countsB13, fill:'#e830f0', stroke:'#7a1a80'}
], histYTicksB, histYLabelsB);
drawHistLegend(panelBHist, {x:2057, y:64, w:173, h:312, swX:2061, swW:40, swH:38, firstRow:88, rowStep:44, textX:2107, fontSize:36}, histLegendB,
  ['#ff55ff','#00ccff','#ffb650','#ff55ff','#5858ff','#00ff55','#ff5555'], ['#a0209a','#0a7d8a','#8a5a10','#802080','#112288','#0a8a2a','#801010']);

const panelDHist = document.getElementById('panel-d-hist');
drawHistogram(panelDHist, {id:'histd', left:2502.5, right:3031, top:918, y0:1445.5, x3:2634, decade:131.5, perCount:3.44, tickFont:22, multiply:true}, [
  {name:'control', counts:countsDControl, fill:'#d06060', stroke:'#5a1010'},
  {name:'tf-c6-lip-free-tf', counts:countsDBlocked, fill:'#38a868', stroke:'#064a26'},
  {name:'tf-c6-lip', counts:countsDTarget, fill:'#6464c8', stroke:'#0a0a7a'}
], histYTicksD, histYLabelsD);
drawHistLegend(panelDHist, {x:3046, y:918, w:316, h:133, swX:3050, swW:37, swH:38, firstRow:941, rowStep:43.5, textX:3093, fontSize:33}, histLegendD,
  ['#6464c8','#38a868','#d06060'], ['#101080','#064a26','#7a1010']);

// ---------- Micrographs ----------
function blobPath(list, box, src, scale) {
  const sx = (box.x1 - box.x0) / (src.x1 - src.x0);
  const sy = (box.y1 - box.y0) / (src.y1 - src.y0);
  let d = '';
  for (let i = 0; i < list.length; i += 3) {
    const cx = box.x0 + (list[i] - src.x0) * sx;
    const cy = box.y0 + (list[i + 1] - src.y0) * sy;
    const r = list[i + 2] * sx * scale;
    d += 'M' + (cx - r).toFixed(1) + ' ' + cy.toFixed(1) + 'a' + r.toFixed(1) + ' ' + r.toFixed(1) + ' 0 1 0 ' + (2 * r).toFixed(1) + ' 0a' + r.toFixed(1) + ' ' + r.toFixed(1) + ' 0 1 0 ' + (-2 * r).toFixed(1) + ' 0Z';
  }
  return d;
}
const srcCol1Dapi = {x0:18, x1:1527, y0:12, y1:1363};
const srcCol1Green = {x0:18, x1:1527, y0:-6, y1:1347};
const srcCol2Dapi = {x0:18, x1:1546, y0:15, y1:1383};
const srcCol2Green = {x0:18, x1:1555, y0:22, y1:1380};
const srcCol3Dapi = {x0:12, x1:1555, y0:15, y1:1385};
const panelC = document.getElementById('panel-c');
const panels = [
  {name:'tf-tp-lip-dapi', box:{x0:248,x1:922,y0:804,y1:1254}, layers:[{list:col1Dapi, src:srcCol1Dapi, fill:'#0000ff', scale:1.15}]},
  {name:'tp-lip-dapi', box:{x0:938,x1:1622,y0:800,y1:1256}, layers:[{list:col2Dapi, src:srcCol2Dapi, fill:'#0000ff', scale:1.15}]},
  {name:'blank-dapi', box:{x0:1635,x1:2344,y0:800,y1:1256}, layers:[{list:col3Dapi, src:srcCol3Dapi, fill:'#0000ff', scale:1.1}]},
  {name:'tf-tp-lip-c6', box:{x0:248,x1:922,y0:1268,y1:1719}, layers:[{list:col1Green, src:srcCol1Green, fill:'#00f000', scale:1.25}]},
  {name:'tp-lip-c6', box:{x0:938,x1:1622,y0:1267,y1:1720}, layers:[{list:col2Green, src:srcCol2Green, fill:'#00f000', scale:1.2}]},
  {name:'blank-c6', box:{x0:1640,x1:2344,y0:1268,y1:1717}, layers:[]},
  {name:'tf-tp-lip-merge', box:{x0:248,x1:922,y0:1733,y1:2184}, layers:[{list:col1Green, src:srcCol1Green, fill:'#00e800', scale:1.2},{list:col1Dapi, src:srcCol1Dapi, fill:'#0000ff', scale:0.95, screen:true}]},
  {name:'tp-lip-merge', box:{x0:938,x1:1622,y0:1730,y1:2190}, layers:[{list:col2Green, src:srcCol2Green, fill:'#00e800', scale:1.15},{list:col2Dapi, src:srcCol2Dapi, fill:'#0000ff', scale:0.95, screen:true}]},
  {name:'blank-merge', box:{x0:1636,x1:2344,y0:1730,y1:2190}, layers:[{list:col3Dapi, src:srcCol3Dapi, fill:'#0000d8', scale:0.9}]}
];
panels.forEach(p => {
  const g = mk('g', panelC, {});
  g.style.isolation = 'isolate';
  
  
  const bg = mk('rect', g, {x: p.box.x0, y: p.box.y0, width: p.box.x1 - p.box.x0, height: p.box.y1 - p.box.y0, fill: '#000'});
  
  
  const clipId = 'clip-' + p.name;
  const defs = mk('defs', g, {});
  const clip = mk('clipPath', defs, {id: clipId});
  mk('rect', clip, {x: p.box.x0, y: p.box.y0, width: p.box.x1 - p.box.x0, height: p.box.y1 - p.box.y0});
  const inner = mk('g', g, {'clip-path': 'url(#' + clipId + ')'});
  inner.style.isolation = 'isolate';
  
  
  const blackBase = mk('rect', inner, {x: p.box.x0, y: p.box.y0, width: p.box.x1 - p.box.x0, height: p.box.y1 - p.box.y0, fill: '#000'});
  
  
  p.layers.forEach(l => {
    const path = mk('path', inner, {d: blobPath(l.list, p.box, l.src, l.scale), fill: l.fill});
    if (l.screen) path.style.mixBlendMode = 'screen';
    
    
  });
});
</script>
</body>
</html>
